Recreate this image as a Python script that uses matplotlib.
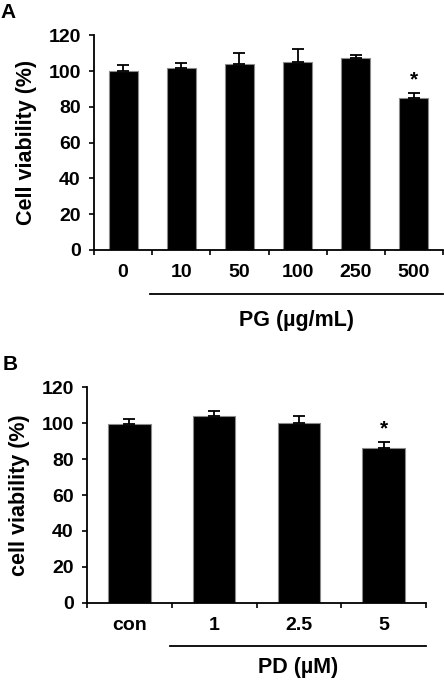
import matplotlib
matplotlib.use('Agg')
import matplotlib.pyplot as plt
import matplotlib.transforms as mtransforms
import numpy as np

plt.rcParams['font.family'] = ['Liberation Sans', 'DejaVu Sans']
plt.rcParams['font.weight'] = 'bold'
plt.rcParams['axes.labelweight'] = 'bold'

# panel A data
pg_labels = ['0', '10', '50', '100', '250', '500']
pg_means = [100.0, 101.9, 104.2, 105.1, 107.5, 85.1]
pg_err = [3.4, 2.4, 5.7, 7.4, 1.5, 2.6]
pg_sig = [False, False, False, False, False, True]

# panel B data
pd_labels = ['con', '1', '2.5', '5']
pd_means = [99.8, 104.1, 100.3, 86.1]
pd_err = [2.6, 2.8, 3.9, 3.3]
pd_sig = [False, False, False, True]

W, H = 444, 685
fig = plt.figure(figsize=(W / 100, H / 100), dpi=100)


def panel(rect, labels, means, err, sig, ylabel, xlabel, line_from, label_dy):
    ax = fig.add_axes(rect)
    x = np.arange(len(labels))
    ax.bar(x, means, width=0.5, color='black', edgecolor='#8a8a8a', linewidth=0.8)
    ax.errorbar(x, means, yerr=[np.zeros(len(err)), err], fmt='none',
                ecolor='black', elinewidth=1.3, capsize=4, capthick=1.3)
    for xi, m, e, s in zip(x, means, err, sig):
        if s:
            ax.text(xi, m + e + 2, '*', ha='center', va='bottom', fontsize=15)

    ax.set_xlim(-0.5, len(labels) - 0.5)
    ax.set_ylim(0, 120)
    ax.set_yticks(range(0, 121, 20))
    ax.set_xticks(x)
    ax.set_xticklabels(labels)
    ax.set_xticks(np.arange(-0.5, len(labels), 1.0), minor=True)
    ax.tick_params(axis='x', which='major', length=0, pad=10, labelsize=14)
    ax.tick_params(axis='x', which='minor', length=3.5, width=1.2)
    ax.tick_params(axis='y', length=3.6, width=1.2, pad=6, labelsize=14)
    for sp in ['top', 'right']:
        ax.spines[sp].set_visible(False)
    for sp in ['left', 'bottom']:
        ax.spines[sp].set_linewidth(1.3)
    ax.set_ylabel(ylabel, fontsize=15.5, labelpad=8)

    trans = mtransforms.blended_transform_factory(ax.transData, ax.transAxes)
    ax.plot([line_from, len(labels) - 0.5], [-0.203, -0.203], color='black',
            lw=1.3, transform=trans, clip_on=False)
    ax.text((line_from + len(labels) - 0.5) / 2, label_dy, xlabel, ha='center',
            va='center', fontsize=15.5, transform=trans)
    return ax


axA = panel([94 / W, 1 - 250 / H, 349 / W, 214.7 / H], pg_labels, pg_means,
            pg_err, pg_sig, 'Cell viability (%)', 'PG (\u00b5g/mL)', 0.47, -0.327)
axB = panel([87 / W, 1 - 602.7 / H, 339 / W, 215.3 / H], pd_labels, pd_means,
            pd_err, pd_sig, 'cell viability (%)', 'PD (\u00b5M)', 0.48, -0.30)

fig.text(8.5 / W, 1 - 13 / H, 'A', ha='center', va='center', fontsize=15)
fig.text(10 / W, 1 - 364 / H, 'B', ha='center', va='center', fontsize=15)

fig.savefig('out.png', dpi=100)
